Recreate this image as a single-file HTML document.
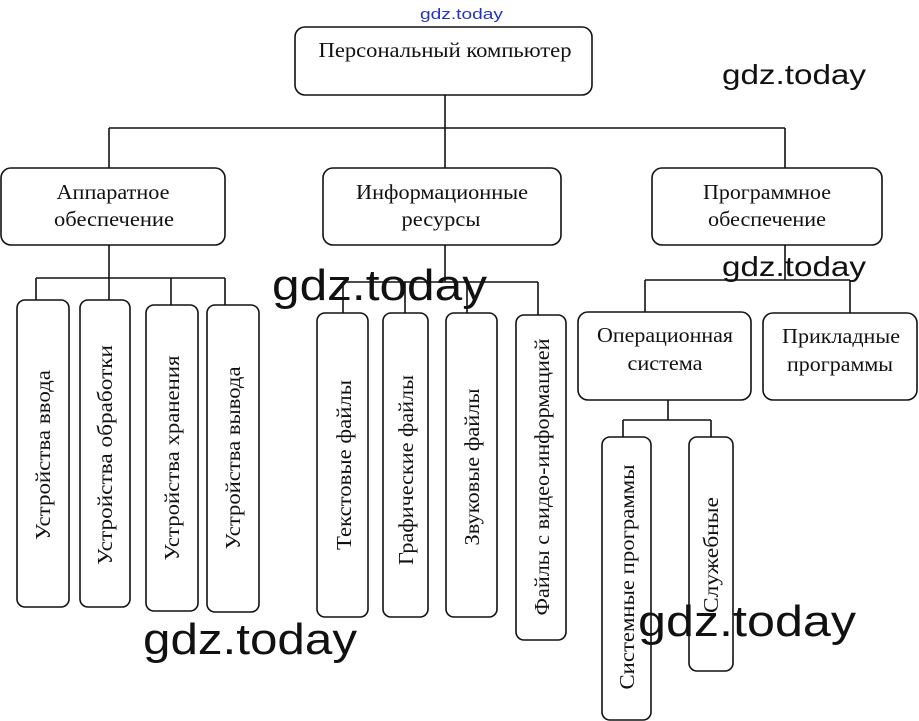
<!DOCTYPE html>
<html><head><meta charset="utf-8"><style>
html,body{margin:0;padding:0;background:#fff;}
svg{display:block;}
.t{font-family:"Liberation Serif",serif;font-size:21px;fill:#111;text-anchor:middle;}
.w{font-family:"Liberation Sans",sans-serif;fill:#111;font-weight:normal;}
</style></head><body>
<svg width="919" height="721" viewBox="0 0 919 721" xmlns="http://www.w3.org/2000/svg">
<g fill="none" stroke="#111" stroke-width="1.6">
<rect x="295" y="27" width="297" height="68" rx="10"/>
<path d="M445 95V128M109 128H785M109 128V168M445 128V168M785 128V168"/>
<rect x="1" y="168" width="224" height="77" rx="10"/>
<rect x="323" y="168" width="238" height="77" rx="10"/>
<rect x="652" y="168" width="230" height="77" rx="10"/>
<path d="M109 245V278M36 278H225M36 278V300M109 278V300M171 278V305M225 278V305"/>
<rect x="17" y="300" width="52" height="307" rx="8"/>
<rect x="80" y="300" width="50" height="307" rx="8"/>
<rect x="146" y="305" width="52" height="306" rx="8"/>
<rect x="207" y="305" width="52" height="307" rx="8"/>
<path d="M445 245V282M343 282H538M343 282V313M405 282V313M467 282V313M538 282V315"/>
<rect x="317" y="313" width="51" height="304" rx="8"/>
<rect x="383" y="313" width="45" height="304" rx="8"/>
<rect x="446" y="313" width="51" height="304" rx="8"/>
<rect x="516" y="315" width="50" height="325" rx="8"/>
<path d="M785 245V280M645 280H850M645 280V312M850 280V313"/>
<rect x="578" y="312" width="173" height="88" rx="10"/>
<rect x="763" y="313" width="154" height="87" rx="10"/>
<path d="M668 400V420M623 420H711M623 420V437M711 420V437"/>
<rect x="602" y="437" width="49" height="283" rx="8"/>
<rect x="689" y="437" width="44" height="234" rx="8"/>
</g>
<text class="t" x="445" y="57" textLength="253" lengthAdjust="spacingAndGlyphs">Персональный компьютер</text>
<text class="t" x="113" y="199" textLength="113" lengthAdjust="spacingAndGlyphs">Аппаратное</text>
<text class="t" x="114" y="226" textLength="120" lengthAdjust="spacingAndGlyphs">обеспечение</text>
<text class="t" x="442" y="199" textLength="172" lengthAdjust="spacingAndGlyphs">Информационные</text>
<text class="t" x="441" y="226" textLength="79" lengthAdjust="spacingAndGlyphs">ресурсы</text>
<text class="t" x="767" y="199" textLength="128" lengthAdjust="spacingAndGlyphs">Программное</text>
<text class="t" x="767" y="226" textLength="118" lengthAdjust="spacingAndGlyphs">обеспечение</text>
<text class="t" x="665" y="342" textLength="136" lengthAdjust="spacingAndGlyphs">Операционная</text>
<text class="t" x="665" y="370" textLength="75" lengthAdjust="spacingAndGlyphs">система</text>
<text class="t" x="841" y="343" textLength="118" lengthAdjust="spacingAndGlyphs">Прикладные</text>
<text class="t" x="840" y="371" textLength="106" lengthAdjust="spacingAndGlyphs">программы</text>
<text class="t" transform="translate(50,455) rotate(-90)" textLength="170" lengthAdjust="spacingAndGlyphs">Устройства ввода</text>
<text class="t" transform="translate(112,455) rotate(-90)" textLength="220" lengthAdjust="spacingAndGlyphs">Устройства обработки</text>
<text class="t" transform="translate(179,458) rotate(-90)" textLength="205" lengthAdjust="spacingAndGlyphs">Устройства хранения</text>
<text class="t" transform="translate(240,458) rotate(-90)" textLength="183" lengthAdjust="spacingAndGlyphs">Устройства вывода</text>
<text class="t" transform="translate(351,465) rotate(-90)" textLength="170" lengthAdjust="spacingAndGlyphs">Текстовые файлы</text>
<text class="t" transform="translate(413,470) rotate(-90)" textLength="190" lengthAdjust="spacingAndGlyphs">Графические файлы</text>
<text class="t" transform="translate(479,467) rotate(-90)" textLength="157" lengthAdjust="spacingAndGlyphs">Звуковые файлы</text>
<text class="t" transform="translate(549,477) rotate(-90)" textLength="277" lengthAdjust="spacingAndGlyphs">Файлы с видео-информацией</text>
<text class="t" transform="translate(634,577) rotate(-90)" textLength="225" lengthAdjust="spacingAndGlyphs">Системные программы</text>
<text class="t" transform="translate(718,555) rotate(-90)" textLength="116" lengthAdjust="spacingAndGlyphs">Служебные</text>
<text class="w" x="420" y="19" style="font-size:15px;fill:#2233cc" textLength="83" lengthAdjust="spacingAndGlyphs">gdz.today</text>
<text class="w" x="722" y="84" style="font-size:28px" textLength="144" lengthAdjust="spacingAndGlyphs">gdz.today</text>
<text class="w" x="722" y="276" style="font-size:28px" textLength="144" lengthAdjust="spacingAndGlyphs">gdz.today</text>
<text class="w" x="272" y="300" style="font-size:44px" textLength="215" lengthAdjust="spacingAndGlyphs">gdz.today</text>
<text class="w" x="143" y="654" style="font-size:44px" textLength="214" lengthAdjust="spacingAndGlyphs">gdz.today</text>
<text class="w" x="638" y="636" style="font-size:44px" textLength="218" lengthAdjust="spacingAndGlyphs">gdz.today</text>
</svg>
</body></html>
